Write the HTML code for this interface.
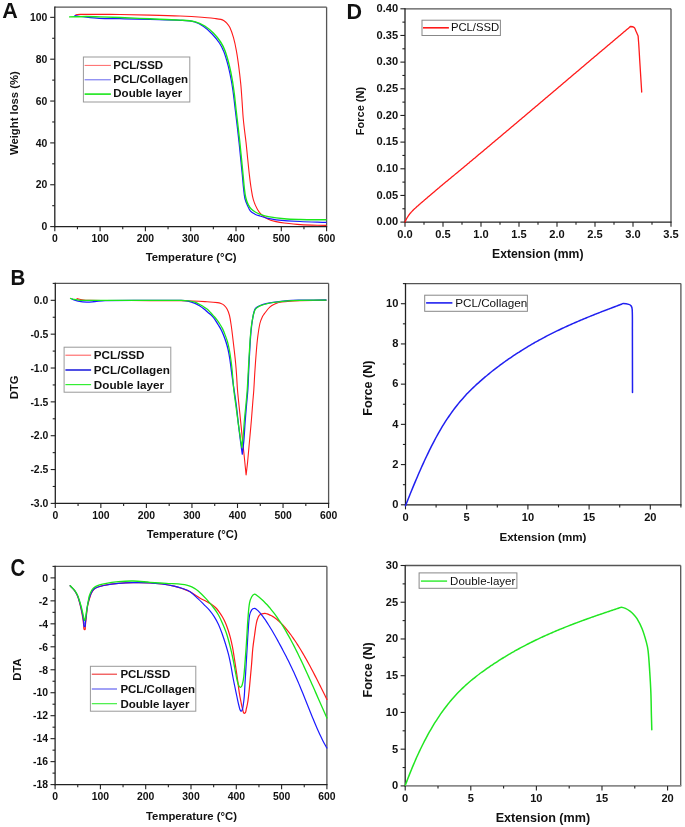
<!DOCTYPE html>
<html><head><meta charset="utf-8"><style>
html,body{margin:0;padding:0;background:#fff;}
svg{display:block;font-family:'Liberation Sans', sans-serif;will-change:transform;}
</style></head><body>
<svg width="685" height="827" viewBox="0 0 685 827">
<rect width="685" height="827" fill="#fff"/>
<line x1="54.8" y1="7.2" x2="326.6" y2="7.2" stroke="#555" stroke-width="1.3"/>
<line x1="326.6" y1="7.2" x2="326.6" y2="226.6" stroke="#555" stroke-width="1.3"/>
<line x1="54.8" y1="6.6" x2="54.8" y2="227.2" stroke="#222" stroke-width="1.3"/>
<line x1="54.2" y1="226.6" x2="327.2" y2="226.6" stroke="#222" stroke-width="1.3"/>
<line x1="54.8" y1="226.6" x2="54.8" y2="231.2" stroke="#222" stroke-width="1.1"/>
<text x="54.8" y="242" font-size="10.4" font-weight="bold" text-anchor="middle" fill="#111">0</text>
<line x1="77.45" y1="226.6" x2="77.45" y2="229.2" stroke="#222" stroke-width="1.1"/>
<line x1="100.1" y1="226.6" x2="100.1" y2="231.2" stroke="#222" stroke-width="1.1"/>
<text x="100.1" y="242" font-size="10.4" font-weight="bold" text-anchor="middle" fill="#111">100</text>
<line x1="122.75" y1="226.6" x2="122.75" y2="229.2" stroke="#222" stroke-width="1.1"/>
<line x1="145.4" y1="226.6" x2="145.4" y2="231.2" stroke="#222" stroke-width="1.1"/>
<text x="145.4" y="242" font-size="10.4" font-weight="bold" text-anchor="middle" fill="#111">200</text>
<line x1="168.05" y1="226.6" x2="168.05" y2="229.2" stroke="#222" stroke-width="1.1"/>
<line x1="190.7" y1="226.6" x2="190.7" y2="231.2" stroke="#222" stroke-width="1.1"/>
<text x="190.7" y="242" font-size="10.4" font-weight="bold" text-anchor="middle" fill="#111">300</text>
<line x1="213.35" y1="226.6" x2="213.35" y2="229.2" stroke="#222" stroke-width="1.1"/>
<line x1="236" y1="226.6" x2="236" y2="231.2" stroke="#222" stroke-width="1.1"/>
<text x="236" y="242" font-size="10.4" font-weight="bold" text-anchor="middle" fill="#111">400</text>
<line x1="258.65" y1="226.6" x2="258.65" y2="229.2" stroke="#222" stroke-width="1.1"/>
<line x1="281.3" y1="226.6" x2="281.3" y2="231.2" stroke="#222" stroke-width="1.1"/>
<text x="281.3" y="242" font-size="10.4" font-weight="bold" text-anchor="middle" fill="#111">500</text>
<line x1="303.95" y1="226.6" x2="303.95" y2="229.2" stroke="#222" stroke-width="1.1"/>
<line x1="326.6" y1="226.6" x2="326.6" y2="231.2" stroke="#222" stroke-width="1.1"/>
<text x="326.6" y="242" font-size="10.4" font-weight="bold" text-anchor="middle" fill="#111">600</text>
<line x1="50.2" y1="226.6" x2="54.8" y2="226.6" stroke="#222" stroke-width="1.1"/>
<text x="47.4" y="230.34" font-size="10.4" font-weight="bold" text-anchor="end" fill="#111">0</text>
<line x1="52.2" y1="205.68" x2="54.8" y2="205.68" stroke="#222" stroke-width="1.1"/>
<line x1="50.2" y1="184.75" x2="54.8" y2="184.75" stroke="#222" stroke-width="1.1"/>
<text x="47.4" y="188.49" font-size="10.4" font-weight="bold" text-anchor="end" fill="#111">20</text>
<line x1="52.2" y1="163.82" x2="54.8" y2="163.82" stroke="#222" stroke-width="1.1"/>
<line x1="50.2" y1="142.9" x2="54.8" y2="142.9" stroke="#222" stroke-width="1.1"/>
<text x="47.4" y="146.64" font-size="10.4" font-weight="bold" text-anchor="end" fill="#111">40</text>
<line x1="52.2" y1="121.97" x2="54.8" y2="121.97" stroke="#222" stroke-width="1.1"/>
<line x1="50.2" y1="101.05" x2="54.8" y2="101.05" stroke="#222" stroke-width="1.1"/>
<text x="47.4" y="104.79" font-size="10.4" font-weight="bold" text-anchor="end" fill="#111">60</text>
<line x1="52.2" y1="80.12" x2="54.8" y2="80.12" stroke="#222" stroke-width="1.1"/>
<line x1="50.2" y1="59.2" x2="54.8" y2="59.2" stroke="#222" stroke-width="1.1"/>
<text x="47.4" y="62.94" font-size="10.4" font-weight="bold" text-anchor="end" fill="#111">80</text>
<line x1="52.2" y1="38.28" x2="54.8" y2="38.28" stroke="#222" stroke-width="1.1"/>
<line x1="50.2" y1="17.35" x2="54.8" y2="17.35" stroke="#222" stroke-width="1.1"/>
<text x="47.4" y="21.09" font-size="10.4" font-weight="bold" text-anchor="end" fill="#111">100</text>
<path d="M75.8,14.8 C77.23,14.67 78.66,14.42 80.1,14.4 C86.73,14.29 93.37,14.38 100,14.4 C106.67,14.42 113.33,14.41 120,14.5 C130,14.64 140,14.85 150,15.1 C160,15.35 170,15.6 180,16 C187.3,16.3 194.61,16.68 201.9,17.2 C206.28,17.51 210.64,18 215,18.5 C216.98,18.73 218.97,18.91 220.9,19.4 C222,19.68 223.05,20.18 224,20.8 C225.11,21.53 226.13,22.4 227,23.4 C228.11,24.69 229.2,26.05 229.9,27.6 C231.38,30.85 232.54,34.26 233.5,37.7 C234.71,42.01 235.59,46.4 236.4,50.8 C237.29,55.64 237.96,60.52 238.6,65.4 C239.43,71.72 240.19,78.05 240.8,84.4 C241.36,90.22 241.68,96.07 242.1,101.9 C242.48,107.27 242.74,112.64 243.2,118 C243.54,122.01 244.04,126 244.5,130 C244.97,134.04 245.55,138.06 246,142.1 C246.59,147.39 247.06,152.7 247.6,158 C248.16,163.4 248.67,168.81 249.3,174.2 C249.84,178.81 250.37,183.42 251.1,188 C251.74,191.99 252.25,196.03 253.4,199.9 C254.39,203.24 255.8,206.47 257.5,209.5 C258.69,211.61 260.21,213.57 262,215.2 C263.82,216.85 265.96,218.18 268.2,219.2 C270.67,220.33 273.35,220.97 276,221.6 C278.7,222.24 281.45,222.66 284.2,223 C289.55,223.66 294.92,224.29 300.3,224.6 C308.86,225.09 317.43,225.13 326,225.4" fill="none" stroke="#ff1a1a" stroke-width="1.1" stroke-linejoin="round" stroke-linecap="round"/>
<path d="M74.9,15.7 C78.7,16.2 82.49,16.8 86.3,17.2 C90.66,17.66 95.02,18.11 99.4,18.3 C106.26,18.61 113.13,18.55 120,18.7 C130,18.92 140,19.13 150,19.4 C160,19.67 170.01,19.74 180,20.3 C184.89,20.57 189.87,20.64 194.6,21.9 C197.87,22.77 200.82,24.68 203.6,26.6 C206.69,28.74 209.49,31.29 212.1,34 C214.78,36.78 217.27,39.78 219.4,43 C221.22,45.75 222.73,48.72 223.9,51.8 C225.71,56.55 227.04,61.48 228.3,66.4 C229.54,71.22 230.51,76.1 231.4,81 C232.28,85.84 232.95,90.72 233.6,95.6 C234.28,100.72 234.8,105.87 235.4,111 C236.03,116.33 236.68,121.66 237.3,127 C237.92,132.33 238.53,137.66 239.1,143 C239.67,148.33 240.17,153.67 240.7,159 C241.23,164.33 241.78,169.66 242.3,175 C242.75,179.66 243.08,184.34 243.6,189 C243.95,192.18 244.16,195.39 244.9,198.5 C245.47,200.92 246.5,203.22 247.5,205.5 C248.37,207.46 249.1,209.57 250.5,211.2 C251.68,212.57 253.39,213.39 255,214.2 C256.61,215.01 258.38,215.45 260.1,216 C262.72,216.85 265.32,217.77 268,218.4 C270.7,219.04 273.44,219.53 276.2,219.8 C284.12,220.57 292.06,221.1 300,221.5 C308.66,221.93 317.33,222.03 326,222.3" fill="none" stroke="#1a1aff" stroke-width="1.2" stroke-linejoin="round" stroke-linecap="round"/>
<path d="M69.6,16.9 C75.17,16.77 80.73,16.5 86.3,16.5 C90.87,16.5 95.43,16.76 100,16.9 C106.67,17.1 113.34,17.25 120,17.5 C130,17.88 140,18.37 150,18.8 C160,19.23 170.01,19.47 180,20.1 C184.88,20.41 189.84,20.47 194.6,21.6 C198.2,22.46 201.65,24.06 204.8,26 C208.05,28 210.92,30.59 213.6,33.3 C216.22,35.95 218.57,38.88 220.6,42 C222.39,44.75 223.86,47.73 225,50.8 C226.77,55.56 228.07,60.48 229.3,65.4 C230.51,70.22 231.45,75.11 232.3,80 C233.15,84.84 233.78,89.72 234.4,94.6 C235.05,99.72 235.51,104.87 236.1,110 C236.71,115.34 237.39,120.66 238,126 C238.62,131.36 239.23,136.73 239.8,142.1 C240.36,147.4 240.87,152.7 241.4,158 C241.94,163.4 242.48,168.8 243,174.2 C243.44,178.8 243.77,183.41 244.3,188 C244.67,191.18 244.97,194.38 245.7,197.5 C246.27,199.94 247.09,202.35 248.2,204.6 C249.04,206.32 250.17,207.92 251.5,209.3 C252.58,210.42 253.94,211.24 255.3,212 C257.12,213.02 259.03,213.9 261,214.6 C263.35,215.44 265.75,216.16 268.2,216.6 C273.5,217.56 278.84,218.31 284.2,218.8 C289.45,219.28 294.73,219.37 300,219.5 C308.66,219.71 317.33,219.7 326,219.8" fill="none" stroke="#1ae61a" stroke-width="1.4" stroke-linejoin="round" stroke-linecap="round"/>
<rect x="83.4" y="57" width="106.4" height="45" fill="#fff" stroke="#999" stroke-width="1"/>
<line x1="84.6" y1="65.4" x2="110.9" y2="65.4" stroke="#f66" stroke-width="1.0"/>
<text x="113.3" y="68.64" font-size="11.5" font-weight="bold" text-anchor="start" fill="#111">PCL/SSD</text>
<line x1="84.6" y1="79.8" x2="110.9" y2="79.8" stroke="#66e" stroke-width="1.0"/>
<text x="113.3" y="83.04" font-size="11.5" font-weight="bold" text-anchor="start" fill="#111">PCL/Collagen</text>
<line x1="84.6" y1="94.1" x2="110.9" y2="94.1" stroke="#1ae61a" stroke-width="1.6"/>
<text x="113.3" y="97.34" font-size="11.5" font-weight="bold" text-anchor="start" fill="#111">Double layer</text>
<text x="191.1" y="260.7" font-size="11.3" font-weight="bold" text-anchor="middle" fill="#111">Temperature (°C)</text>
<text x="17.9" y="113.1" font-size="11.3" font-weight="bold" text-anchor="middle" fill="#111" transform="rotate(-90 17.9 113.1)">Weight loss (%)</text>
<text x="2.3" y="18.4" font-size="21.5" font-weight="bold" text-anchor="start" fill="#111">A</text>
<line x1="55.3" y1="283.4" x2="328.6" y2="283.4" stroke="#555" stroke-width="1.3"/>
<line x1="328.6" y1="283.4" x2="328.6" y2="503.4" stroke="#555" stroke-width="1.3"/>
<line x1="55.3" y1="282.8" x2="55.3" y2="504" stroke="#222" stroke-width="1.3"/>
<line x1="54.7" y1="503.4" x2="329.2" y2="503.4" stroke="#222" stroke-width="1.3"/>
<line x1="55.3" y1="503.4" x2="55.3" y2="508" stroke="#222" stroke-width="1.1"/>
<text x="55.3" y="518.8" font-size="10.4" font-weight="bold" text-anchor="middle" fill="#111">0</text>
<line x1="78.07" y1="503.4" x2="78.07" y2="506" stroke="#222" stroke-width="1.1"/>
<line x1="100.85" y1="503.4" x2="100.85" y2="508" stroke="#222" stroke-width="1.1"/>
<text x="100.85" y="518.8" font-size="10.4" font-weight="bold" text-anchor="middle" fill="#111">100</text>
<line x1="123.62" y1="503.4" x2="123.62" y2="506" stroke="#222" stroke-width="1.1"/>
<line x1="146.4" y1="503.4" x2="146.4" y2="508" stroke="#222" stroke-width="1.1"/>
<text x="146.4" y="518.8" font-size="10.4" font-weight="bold" text-anchor="middle" fill="#111">200</text>
<line x1="169.18" y1="503.4" x2="169.18" y2="506" stroke="#222" stroke-width="1.1"/>
<line x1="191.95" y1="503.4" x2="191.95" y2="508" stroke="#222" stroke-width="1.1"/>
<text x="191.95" y="518.8" font-size="10.4" font-weight="bold" text-anchor="middle" fill="#111">300</text>
<line x1="214.73" y1="503.4" x2="214.73" y2="506" stroke="#222" stroke-width="1.1"/>
<line x1="237.5" y1="503.4" x2="237.5" y2="508" stroke="#222" stroke-width="1.1"/>
<text x="237.5" y="518.8" font-size="10.4" font-weight="bold" text-anchor="middle" fill="#111">400</text>
<line x1="260.28" y1="503.4" x2="260.28" y2="506" stroke="#222" stroke-width="1.1"/>
<line x1="283.05" y1="503.4" x2="283.05" y2="508" stroke="#222" stroke-width="1.1"/>
<text x="283.05" y="518.8" font-size="10.4" font-weight="bold" text-anchor="middle" fill="#111">500</text>
<line x1="305.82" y1="503.4" x2="305.82" y2="506" stroke="#222" stroke-width="1.1"/>
<line x1="328.6" y1="503.4" x2="328.6" y2="508" stroke="#222" stroke-width="1.1"/>
<text x="328.6" y="518.8" font-size="10.4" font-weight="bold" text-anchor="middle" fill="#111">600</text>
<line x1="50.7" y1="503.4" x2="55.3" y2="503.4" stroke="#222" stroke-width="1.1"/>
<text x="48.3" y="507.14" font-size="10.4" font-weight="bold" text-anchor="end" fill="#111">-3.0</text>
<line x1="52.7" y1="486.48" x2="55.3" y2="486.48" stroke="#222" stroke-width="1.1"/>
<line x1="50.7" y1="469.55" x2="55.3" y2="469.55" stroke="#222" stroke-width="1.1"/>
<text x="48.3" y="473.3" font-size="10.4" font-weight="bold" text-anchor="end" fill="#111">-2.5</text>
<line x1="52.7" y1="452.63" x2="55.3" y2="452.63" stroke="#222" stroke-width="1.1"/>
<line x1="50.7" y1="435.71" x2="55.3" y2="435.71" stroke="#222" stroke-width="1.1"/>
<text x="48.3" y="439.45" font-size="10.4" font-weight="bold" text-anchor="end" fill="#111">-2.0</text>
<line x1="52.7" y1="418.78" x2="55.3" y2="418.78" stroke="#222" stroke-width="1.1"/>
<line x1="50.7" y1="401.86" x2="55.3" y2="401.86" stroke="#222" stroke-width="1.1"/>
<text x="48.3" y="405.61" font-size="10.4" font-weight="bold" text-anchor="end" fill="#111">-1.5</text>
<line x1="52.7" y1="384.94" x2="55.3" y2="384.94" stroke="#222" stroke-width="1.1"/>
<line x1="50.7" y1="368.02" x2="55.3" y2="368.02" stroke="#222" stroke-width="1.1"/>
<text x="48.3" y="371.76" font-size="10.4" font-weight="bold" text-anchor="end" fill="#111">-1.0</text>
<line x1="52.7" y1="351.09" x2="55.3" y2="351.09" stroke="#222" stroke-width="1.1"/>
<line x1="50.7" y1="334.17" x2="55.3" y2="334.17" stroke="#222" stroke-width="1.1"/>
<text x="48.3" y="337.91" font-size="10.4" font-weight="bold" text-anchor="end" fill="#111">-0.5</text>
<line x1="52.7" y1="317.25" x2="55.3" y2="317.25" stroke="#222" stroke-width="1.1"/>
<line x1="50.7" y1="300.32" x2="55.3" y2="300.32" stroke="#222" stroke-width="1.1"/>
<text x="48.3" y="304.07" font-size="10.4" font-weight="bold" text-anchor="end" fill="#111">0.0</text>
<line x1="52.7" y1="283.4" x2="55.3" y2="283.4" stroke="#222" stroke-width="1.1"/>
<path d="M77,298.6 C78.67,299 80.3,299.56 82,299.8 C84.65,300.17 87.33,300.33 90,300.4 C96.66,300.57 103.33,300.48 110,300.5 C123.33,300.54 136.67,300.56 150,300.6 C160,300.63 170,300.61 180,300.7 C184.33,300.74 188.67,300.84 193,301 C197,301.14 201,301.34 205,301.6 C209.17,301.87 213.35,302.08 217.5,302.6 C218.7,302.75 219.88,303.13 221,303.6 C222.13,304.07 223.29,304.58 224.2,305.4 C225.4,306.48 226.45,307.77 227.2,309.2 C228.24,311.18 228.97,313.33 229.5,315.5 C230.34,318.95 230.78,322.49 231.3,326 C231.88,329.99 232.31,334 232.8,338 C233.31,342.23 233.83,346.46 234.3,350.7 C234.76,354.8 235.22,358.89 235.6,363 C235.99,367.16 236.31,371.33 236.6,375.5 C236.94,380.33 237.09,385.17 237.5,390 C238.16,397.68 239.03,405.33 239.8,413 C240.53,420.33 241.25,427.67 242,435 C242.72,442 243.48,449 244.2,456 C244.85,462.3 245.47,468.6 246.1,474.9 C246.6,470.6 247.17,466.31 247.6,462 C248.33,454.67 248.94,447.33 249.6,440 C250.2,433.33 250.84,426.67 251.4,420 C251.91,414 252.32,408 252.8,402 C253.12,398 253.53,394 253.8,390 C254.19,384.2 254.42,378.4 254.8,372.6 C255.22,366.06 255.67,359.53 256.2,353 C256.61,347.99 256.98,342.98 257.6,338 C258.21,333.14 258.81,328.27 259.9,323.5 C260.45,321.07 261.45,318.76 262.5,316.5 C263.03,315.37 263.86,314.41 264.6,313.4 C265.7,311.91 266.75,310.37 268,309 C269.06,307.83 270.2,306.71 271.5,305.8 C272.89,304.83 274.41,303.99 276,303.4 C277.87,302.71 279.84,302.31 281.8,302 C284.51,301.57 287.26,301.38 290,301.2 C293.33,300.98 296.67,300.88 300,300.8 C308.67,300.58 317.33,300.47 326,300.3" fill="none" stroke="#ff1a1a" stroke-width="1.1" stroke-linejoin="round" stroke-linecap="round"/>
<path d="M72,299.2 C74,299.87 75.93,300.78 78,301.2 C80.93,301.79 83.92,302.15 86.9,302.2 C89.61,302.25 92.3,301.74 95,301.5 C98.33,301.21 101.65,300.67 105,300.6 C120,300.3 135,300.44 150,300.4 C160.43,300.37 170.87,300.18 181.3,300.4 C183.55,300.45 185.8,300.72 188,301.2 C190.39,301.72 192.73,302.49 195,303.4 C196.58,304.03 198.06,304.9 199.5,305.8 C200.96,306.71 202.35,307.73 203.7,308.8 C205.19,309.97 206.58,311.26 208,312.5 C209.48,313.79 211.03,314.99 212.4,316.4 C213.38,317.4 214.2,318.55 215,319.7 C216.07,321.25 217.01,322.89 218,324.5 C219.01,326.16 220.1,327.78 221,329.5 C221.93,331.28 222.75,333.13 223.5,335 C224.42,337.3 225.26,339.64 226,342 C226.79,344.51 227.52,347.04 228.1,349.6 C228.82,352.81 229.39,356.05 229.9,359.3 C230.46,362.85 230.82,366.43 231.3,370 C231.92,374.67 232.55,379.34 233.2,384 C233.48,386 233.81,388 234.1,390 C234.91,395.66 235.79,401.32 236.5,407 C237.25,412.99 237.79,419 238.5,425 C239.13,430.34 239.81,435.67 240.5,441 C241.07,445.4 241.7,449.8 242.3,454.2 C242.8,449.8 243.42,445.41 243.8,441 C244.35,434.68 244.63,428.33 245.1,422 C245.53,416.33 246.02,410.67 246.5,405 C246.92,400 247.48,395.01 247.8,390 C248.18,384.21 248.33,378.4 248.6,372.6 C248.83,367.73 249.03,362.86 249.3,358 C249.7,350.7 250.08,343.39 250.6,336.1 C250.84,332.73 251.2,329.36 251.6,326 C251.9,323.46 252.27,320.92 252.7,318.4 C253.07,316.25 253.41,314.1 254,312 C254.35,310.75 254.73,309.44 255.5,308.4 C256.11,307.57 257.11,307.12 258,306.6 C259.05,305.98 260.15,305.42 261.3,305 C262.83,304.45 264.42,304.07 266,303.7 C268.32,303.16 270.64,302.64 273,302.3 C277.85,301.6 282.72,300.98 287.6,300.6 C291.72,300.28 295.87,300.26 300,300.2 C308.67,300.06 317.33,300.07 326,300" fill="none" stroke="#1a1aff" stroke-width="1.3" stroke-linejoin="round" stroke-linecap="round"/>
<path d="M70.5,298.4 C71.67,298.73 72.81,299.16 74,299.4 C75.98,299.8 77.98,300.23 80,300.3 C86.66,300.53 93.33,300.29 100,300.3 C116.67,300.32 133.33,300.4 150,300.4 C160.33,300.4 170.67,300.15 181,300.3 C184.01,300.35 187.02,300.6 190,301 C191.7,301.23 193.38,301.65 195,302.2 C196.33,302.65 197.55,303.36 198.8,304 C200.22,304.73 201.64,305.47 203,306.3 C204.37,307.14 205.76,307.98 207,309 C208.27,310.05 209.36,311.31 210.5,312.5 C211.53,313.57 212.52,314.68 213.5,315.8 C214.48,316.92 215.49,318.02 216.4,319.2 C217.49,320.62 218.52,322.09 219.5,323.6 C220.56,325.23 221.63,326.86 222.5,328.6 C223.47,330.54 224.23,332.57 225,334.6 C225.86,336.88 226.73,339.16 227.4,341.5 C228.13,344.03 228.7,346.61 229.2,349.2 C229.83,352.45 230.34,355.72 230.8,359 C231.3,362.56 231.75,366.12 232.1,369.7 C232.75,376.46 233.09,383.25 233.8,390 C234.33,395.02 235.13,400 235.8,405 C236.47,410 237.11,415 237.8,420 C238.44,424.67 239.13,429.33 239.8,434 C240.46,438.57 241.13,443.13 241.8,447.7 C242.27,443.8 242.83,439.91 243.2,436 C243.7,430.68 243.94,425.33 244.4,420 C244.84,414.99 245.43,410 245.9,405 C246.37,400 246.84,395.01 247.2,390 C247.61,384.21 247.87,378.4 248.2,372.6 C248.47,367.73 248.71,362.87 249,358 C249.44,350.7 249.85,343.39 250.4,336.1 C250.65,332.73 250.98,329.36 251.4,326 C251.71,323.52 252.13,321.05 252.6,318.6 C252.99,316.55 253.39,314.5 254,312.5 C254.36,311.32 254.77,310.1 255.5,309.1 C256.14,308.22 257.08,307.59 258,307 C259.03,306.34 260.16,305.83 261.3,305.4 C262.83,304.83 264.41,304.39 266,304 C268.32,303.43 270.64,302.85 273,302.5 C277.85,301.78 282.72,301.2 287.6,300.8 C291.72,300.46 295.86,300.38 300,300.3 C308.67,300.14 317.33,300.17 326,300.1" fill="none" stroke="#1ae61a" stroke-width="1.25" stroke-linejoin="round" stroke-linecap="round"/>
<rect x="64.1" y="347.2" width="106.7" height="45" fill="#fff" stroke="#999" stroke-width="1"/>
<line x1="65.4" y1="355.2" x2="91.1" y2="355.2" stroke="#f55" stroke-width="1.0"/>
<text x="93.8" y="359.41" font-size="11.7" font-weight="bold" text-anchor="start" fill="#111">PCL/SSD</text>
<line x1="65.4" y1="370" x2="91.1" y2="370" stroke="#22d" stroke-width="1.6"/>
<text x="93.8" y="374.21" font-size="11.7" font-weight="bold" text-anchor="start" fill="#111">PCL/Collagen</text>
<line x1="65.4" y1="384.6" x2="91.1" y2="384.6" stroke="#3e3" stroke-width="1.2"/>
<text x="93.8" y="388.81" font-size="11.7" font-weight="bold" text-anchor="start" fill="#111">Double layer</text>
<text x="192.2" y="538.3" font-size="11.3" font-weight="bold" text-anchor="middle" fill="#111">Temperature (°C)</text>
<text x="18.1" y="387.4" font-size="11.3" font-weight="bold" text-anchor="middle" fill="#111" transform="rotate(-90 18.1 387.4)">DTG</text>
<text transform="translate(10.5 285.1) scale(0.9 1)" font-size="22.8" font-weight="bold" fill="#111">B</text>
<line x1="55.1" y1="566.4" x2="326.9" y2="566.4" stroke="#555" stroke-width="1.3"/>
<line x1="326.9" y1="566.4" x2="326.9" y2="784.6" stroke="#555" stroke-width="1.3"/>
<line x1="55.1" y1="565.8" x2="55.1" y2="785.2" stroke="#222" stroke-width="1.3"/>
<line x1="54.5" y1="784.6" x2="327.5" y2="784.6" stroke="#222" stroke-width="1.3"/>
<line x1="55.1" y1="784.6" x2="55.1" y2="789.2" stroke="#222" stroke-width="1.1"/>
<text x="55.1" y="800.3" font-size="10.4" font-weight="bold" text-anchor="middle" fill="#111">0</text>
<line x1="77.75" y1="784.6" x2="77.75" y2="787.2" stroke="#222" stroke-width="1.1"/>
<line x1="100.4" y1="784.6" x2="100.4" y2="789.2" stroke="#222" stroke-width="1.1"/>
<text x="100.4" y="800.3" font-size="10.4" font-weight="bold" text-anchor="middle" fill="#111">100</text>
<line x1="123.05" y1="784.6" x2="123.05" y2="787.2" stroke="#222" stroke-width="1.1"/>
<line x1="145.7" y1="784.6" x2="145.7" y2="789.2" stroke="#222" stroke-width="1.1"/>
<text x="145.7" y="800.3" font-size="10.4" font-weight="bold" text-anchor="middle" fill="#111">200</text>
<line x1="168.35" y1="784.6" x2="168.35" y2="787.2" stroke="#222" stroke-width="1.1"/>
<line x1="191" y1="784.6" x2="191" y2="789.2" stroke="#222" stroke-width="1.1"/>
<text x="191" y="800.3" font-size="10.4" font-weight="bold" text-anchor="middle" fill="#111">300</text>
<line x1="213.65" y1="784.6" x2="213.65" y2="787.2" stroke="#222" stroke-width="1.1"/>
<line x1="236.3" y1="784.6" x2="236.3" y2="789.2" stroke="#222" stroke-width="1.1"/>
<text x="236.3" y="800.3" font-size="10.4" font-weight="bold" text-anchor="middle" fill="#111">400</text>
<line x1="258.95" y1="784.6" x2="258.95" y2="787.2" stroke="#222" stroke-width="1.1"/>
<line x1="281.6" y1="784.6" x2="281.6" y2="789.2" stroke="#222" stroke-width="1.1"/>
<text x="281.6" y="800.3" font-size="10.4" font-weight="bold" text-anchor="middle" fill="#111">500</text>
<line x1="304.25" y1="784.6" x2="304.25" y2="787.2" stroke="#222" stroke-width="1.1"/>
<line x1="326.9" y1="784.6" x2="326.9" y2="789.2" stroke="#222" stroke-width="1.1"/>
<text x="326.9" y="800.3" font-size="10.4" font-weight="bold" text-anchor="middle" fill="#111">600</text>
<line x1="50.5" y1="784.6" x2="55.1" y2="784.6" stroke="#222" stroke-width="1.1"/>
<text x="48.1" y="788.34" font-size="10.4" font-weight="bold" text-anchor="end" fill="#111">-18</text>
<line x1="52.5" y1="773.12" x2="55.1" y2="773.12" stroke="#222" stroke-width="1.1"/>
<line x1="50.5" y1="761.63" x2="55.1" y2="761.63" stroke="#222" stroke-width="1.1"/>
<text x="48.1" y="765.38" font-size="10.4" font-weight="bold" text-anchor="end" fill="#111">-16</text>
<line x1="52.5" y1="750.15" x2="55.1" y2="750.15" stroke="#222" stroke-width="1.1"/>
<line x1="50.5" y1="738.66" x2="55.1" y2="738.66" stroke="#222" stroke-width="1.1"/>
<text x="48.1" y="742.41" font-size="10.4" font-weight="bold" text-anchor="end" fill="#111">-14</text>
<line x1="52.5" y1="727.18" x2="55.1" y2="727.18" stroke="#222" stroke-width="1.1"/>
<line x1="50.5" y1="715.69" x2="55.1" y2="715.69" stroke="#222" stroke-width="1.1"/>
<text x="48.1" y="719.44" font-size="10.4" font-weight="bold" text-anchor="end" fill="#111">-12</text>
<line x1="52.5" y1="704.21" x2="55.1" y2="704.21" stroke="#222" stroke-width="1.1"/>
<line x1="50.5" y1="692.73" x2="55.1" y2="692.73" stroke="#222" stroke-width="1.1"/>
<text x="48.1" y="696.47" font-size="10.4" font-weight="bold" text-anchor="end" fill="#111">-10</text>
<line x1="52.5" y1="681.24" x2="55.1" y2="681.24" stroke="#222" stroke-width="1.1"/>
<line x1="50.5" y1="669.76" x2="55.1" y2="669.76" stroke="#222" stroke-width="1.1"/>
<text x="48.1" y="673.5" font-size="10.4" font-weight="bold" text-anchor="end" fill="#111">-8</text>
<line x1="52.5" y1="658.27" x2="55.1" y2="658.27" stroke="#222" stroke-width="1.1"/>
<line x1="50.5" y1="646.79" x2="55.1" y2="646.79" stroke="#222" stroke-width="1.1"/>
<text x="48.1" y="650.53" font-size="10.4" font-weight="bold" text-anchor="end" fill="#111">-6</text>
<line x1="52.5" y1="635.31" x2="55.1" y2="635.31" stroke="#222" stroke-width="1.1"/>
<line x1="50.5" y1="623.82" x2="55.1" y2="623.82" stroke="#222" stroke-width="1.1"/>
<text x="48.1" y="627.57" font-size="10.4" font-weight="bold" text-anchor="end" fill="#111">-4</text>
<line x1="52.5" y1="612.34" x2="55.1" y2="612.34" stroke="#222" stroke-width="1.1"/>
<line x1="50.5" y1="600.85" x2="55.1" y2="600.85" stroke="#222" stroke-width="1.1"/>
<text x="48.1" y="604.6" font-size="10.4" font-weight="bold" text-anchor="end" fill="#111">-2</text>
<line x1="52.5" y1="589.37" x2="55.1" y2="589.37" stroke="#222" stroke-width="1.1"/>
<line x1="50.5" y1="577.88" x2="55.1" y2="577.88" stroke="#222" stroke-width="1.1"/>
<text x="48.1" y="581.63" font-size="10.4" font-weight="bold" text-anchor="end" fill="#111">0</text>
<line x1="52.5" y1="566.4" x2="55.1" y2="566.4" stroke="#222" stroke-width="1.1"/>
<path d="M70.2,585.8 C71.67,587.4 73.3,588.86 74.6,590.6 C75.65,592.01 76.48,593.59 77.2,595.2 C77.96,596.9 78.48,598.71 79,600.5 C79.72,602.98 80.35,605.48 80.9,608 C81.55,610.98 82.1,613.99 82.6,617 C83.07,619.82 83.37,622.67 83.8,625.5 C84.01,626.87 83.18,629.16 84.5,629.6 C85.67,629.99 85.13,627.22 85.3,626 C85.76,622.68 86.02,619.33 86.4,616 C86.78,612.66 87.01,609.31 87.6,606 C88.05,603.46 88.76,600.97 89.5,598.5 C90.06,596.63 90.64,594.75 91.5,593 C92.15,591.66 92.91,590.31 94,589.3 C95.13,588.26 96.58,587.58 98,587 C99.87,586.24 101.82,585.65 103.8,585.3 C108.63,584.45 113.51,583.85 118.4,583.4 C123.25,582.95 128.13,582.69 133,582.6 C138.67,582.49 144.34,582.53 150,582.8 C154.02,582.99 158.02,583.45 162,584 C166.06,584.56 170.11,585.2 174.1,586.1 C176.79,586.7 179.4,587.59 182,588.5 C184.74,589.46 187.5,590.4 190.1,591.7 C192.19,592.75 194.03,594.24 196,595.5 C197.79,596.64 199.55,597.85 201.4,598.9 C202.89,599.75 204.48,600.41 206,601.2 C207.68,602.07 209.42,602.85 211,603.9 C212.6,604.96 214.12,606.16 215.5,607.5 C216.84,608.81 217.99,610.3 219.1,611.8 C220.33,613.47 221.47,615.2 222.5,617 C223.61,618.94 224.62,620.95 225.5,623 C226.48,625.29 227.31,627.64 228.1,630 C228.91,632.44 229.66,634.91 230.3,637.4 C231.12,640.58 231.87,643.78 232.5,647 C233.21,650.65 233.72,654.33 234.3,658 C234.88,661.66 235.45,665.33 236,669 C236.55,672.66 237.09,676.33 237.6,680 C238.19,684.26 238.64,688.55 239.3,692.8 C239.78,695.88 240.38,698.94 241,702 C241.48,704.35 241.89,706.71 242.6,709 C243.06,710.5 242.95,713.5 244.5,713.3 C246.21,713.08 245.9,710.15 246.4,708.5 C246.94,706.7 247.28,704.85 247.6,703 C247.98,700.85 248.24,698.67 248.5,696.5 C248.91,693 249.26,689.5 249.6,686 C249.96,682.34 250.27,678.67 250.6,675 C250.93,671.33 251.3,667.67 251.6,664 C252.03,658.84 252.27,653.65 252.8,648.5 C253.27,643.98 253.97,639.5 254.6,635 C255.17,630.99 255.59,626.96 256.4,623 C256.82,620.95 257.41,618.9 258.3,617 C258.79,615.95 259.55,614.97 260.5,614.3 C261.2,613.81 262.16,613.86 263,613.7 C263.66,613.57 264.33,613.4 265,613.44 C265.68,613.47 266.34,613.71 267,613.9 C267.68,614.09 268.35,614.33 269,614.59 C269.68,614.86 270.35,615.17 271,615.5 C271.68,615.85 272.35,616.23 273,616.63 C273.68,617.05 274.35,617.5 275,617.96 C275.68,618.45 276.35,618.96 277,619.49 C277.68,620.05 278.35,620.62 279,621.21 C279.68,621.83 280.35,622.46 281,623.11 C281.68,623.78 282.35,624.47 283,625.18 C283.68,625.91 284.35,626.65 285,627.41 C285.68,628.19 286.35,628.99 287,629.79 C287.68,630.63 288.34,631.47 289,632.33 C289.68,633.21 290.34,634.1 291,635 C291.68,635.93 292.34,636.87 293,637.81 C293.68,638.78 294.34,639.76 295,640.74 C295.68,641.76 296.34,642.78 297,643.8 C297.68,644.85 298.34,645.91 299,646.97 C299.67,648.06 300.34,649.15 301,650.25 C301.67,651.37 302.34,652.49 303,653.62 C303.67,654.78 304.34,655.93 305,657.09 C305.67,658.28 306.34,659.46 307,660.65 C307.67,661.86 308.34,663.07 309,664.29 C309.67,665.53 310.34,666.76 311,668 C311.67,669.26 312.34,670.52 313,671.78 C313.67,673.06 314.34,674.34 315,675.62 C315.67,676.92 316.34,678.22 317,679.52 C317.67,680.83 318.34,682.14 319,683.46 C319.67,684.79 320.34,686.11 321,687.44 C321.67,688.78 322.34,690.12 323,691.46 C323.67,692.81 324.33,694.15 325,695.5 C325.63,696.79 326.27,698.08 326.9,699.36" fill="none" stroke="#ff1a1a" stroke-width="1.2" stroke-linejoin="round" stroke-linecap="round"/>
<path d="M70.2,585.8 C71.67,587.4 73.29,588.87 74.6,590.6 C75.63,591.96 76.48,593.46 77.2,595 C77.95,596.6 78.48,598.31 79,600 C79.71,602.31 80.34,604.65 80.9,607 C81.54,609.65 82.1,612.32 82.6,615 C83.07,617.49 83.39,620 83.8,622.5 C84.02,623.87 83.18,626.16 84.5,626.6 C85.67,626.99 85.12,624.22 85.3,623 C85.75,620.01 86.02,617 86.4,614 C86.78,611 87.04,607.97 87.6,605 C88.08,602.47 88.73,599.96 89.5,597.5 C90.03,595.79 90.66,594.09 91.5,592.5 C92.17,591.23 92.91,589.93 94,589 C95.14,588.04 96.6,587.5 98,587 C99.88,586.33 101.83,585.85 103.8,585.5 C108.64,584.65 113.51,583.89 118.4,583.4 C123.25,582.92 128.13,582.69 133,582.6 C138.67,582.49 144.34,582.53 150,582.8 C154.02,582.99 158.02,583.45 162,584 C166.06,584.56 170.1,585.24 174.1,586.1 C176.77,586.67 179.42,587.4 182,588.3 C184.76,589.27 187.65,590.1 190.1,591.7 C193.12,593.68 195.55,596.44 198.2,598.9 C200.19,600.74 202.08,602.68 204,604.6 C205.82,606.42 207.74,608.14 209.4,610.1 C211.14,612.15 212.76,614.32 214.2,616.6 C215.8,619.13 217.25,621.78 218.5,624.5 C219.95,627.65 221.12,630.93 222.3,634.2 C223.49,637.5 224.57,640.84 225.6,644.2 C226.71,647.81 227.79,651.43 228.7,655.1 C229.59,658.7 230.3,662.35 231,666 C231.7,669.65 232.22,673.34 232.9,677 C233.42,679.84 234.02,682.67 234.6,685.5 C235.39,689.34 236.18,693.17 237,697 C237.64,700 238.2,703.03 239,706 C239.47,707.74 239.54,709.81 240.8,711.1 C241.33,711.64 242.14,710.21 242.4,709.5 C243.04,707.75 243.14,705.85 243.4,704 C243.77,701.34 244.1,698.68 244.3,696 C244.66,691.24 244.82,686.47 245.1,681.7 C245.49,675.13 245.91,668.57 246.3,662 C246.64,656.33 246.96,650.67 247.3,645 C247.56,640.67 247.77,636.33 248.1,632 C248.51,626.56 248.63,621.08 249.5,615.7 C249.84,613.63 250.5,611.52 251.7,609.8 C252.31,608.92 253.53,608.48 254.6,608.4 C255.35,608.34 256,608.97 256.6,609.41 C257.35,609.97 257.96,610.68 258.6,611.35 C259.29,612.08 259.96,612.84 260.6,613.61 C261.29,614.44 261.95,615.29 262.6,616.15 C263.29,617.06 263.95,617.99 264.6,618.92 C265.28,619.9 265.94,620.88 266.6,621.87 C267.28,622.89 267.94,623.93 268.6,624.97 C269.28,626.04 269.94,627.11 270.6,628.2 C271.28,629.31 271.94,630.42 272.6,631.55 C273.27,632.69 273.94,633.85 274.6,635 C275.27,636.18 275.94,637.36 276.6,638.55 C277.27,639.75 277.94,640.96 278.6,642.17 C279.27,643.4 279.94,644.63 280.6,645.87 C281.27,647.11 281.94,648.36 282.6,649.62 C283.27,650.89 283.94,652.16 284.6,653.44 C285.27,654.73 285.94,656.03 286.6,657.34 C287.27,658.67 287.94,660 288.6,661.33 C289.27,662.7 289.94,664.07 290.6,665.44 C291.27,666.84 291.94,668.25 292.6,669.66 C293.27,671.1 293.94,672.55 294.6,674 C295.28,675.5 295.94,676.99 296.6,678.49 C297.28,680.04 297.94,681.58 298.6,683.13 C299.28,684.72 299.94,686.32 300.6,687.92 C301.27,689.54 301.94,691.17 302.6,692.81 C303.27,694.46 303.94,696.11 304.6,697.77 C305.27,699.44 305.93,701.1 306.6,702.77 C307.27,704.44 307.93,706.11 308.6,707.78 C309.27,709.44 309.93,711.1 310.6,712.76 C311.26,714.4 311.93,716.04 312.6,717.68 C313.26,719.29 313.93,720.9 314.6,722.5 C315.26,724.07 315.92,725.63 316.6,727.19 C317.26,728.71 317.92,730.22 318.6,731.72 C319.25,733.17 319.92,734.61 320.6,736.05 C321.25,737.42 321.92,738.79 322.6,740.15 C323.25,741.43 323.91,742.71 324.6,743.98 C325.25,745.16 325.93,746.33 326.6,747.51 C326.7,747.68 326.8,747.84 326.9,748.01" fill="none" stroke="#1a1aff" stroke-width="1.2" stroke-linejoin="round" stroke-linecap="round"/>
<path d="M70.2,585.8 C71.67,587.33 73.27,588.75 74.6,590.4 C75.61,591.66 76.48,593.05 77.2,594.5 C77.95,596 78.47,597.61 79,599.2 C79.7,601.28 80.32,603.38 80.9,605.5 C81.52,607.75 82.06,610.03 82.6,612.3 C83.09,614.36 83.44,616.46 84,618.5 C84.18,619.16 84.4,620.96 84.8,620.4 C85.68,619.18 85.54,617.48 85.8,616 C86.27,613.34 86.56,610.66 87,608 C87.36,605.83 87.79,603.67 88.2,601.5 C88.53,599.77 88.71,597.99 89.2,596.3 C89.71,594.55 90.34,592.81 91.2,591.2 C91.82,590.02 92.6,588.89 93.6,588 C94.74,586.99 96.08,586.17 97.5,585.6 C99.52,584.79 101.66,584.3 103.8,583.9 C108.64,583 113.5,582.19 118.4,581.7 C123.25,581.22 128.13,580.91 133,581 C138.68,581.11 144.33,581.89 150,582.3 C155.37,582.69 160.73,583.07 166.1,583.4 C171.43,583.73 176.78,583.83 182.1,584.3 C183.92,584.46 185.73,584.83 187.5,585.3 C188.98,585.7 190.45,586.19 191.8,586.9 C194.03,588.07 196.27,589.29 198.2,590.9 C201.1,593.31 203.66,596.11 206.2,598.9 C209,601.98 211.67,605.19 214.2,608.5 C215.78,610.56 217.23,612.73 218.5,615 C219.94,617.58 221.13,620.29 222.3,623 C223.8,626.46 225.31,629.92 226.5,633.5 C227.98,637.97 229.15,642.54 230.3,647.1 C231.38,651.37 232.31,655.68 233.2,660 C234.18,664.78 234.92,669.62 235.9,674.4 C236.52,677.45 236.98,680.56 238,683.5 C238.5,684.94 238.91,687.05 240.4,687.4 C241.53,687.66 241.95,685.6 242.3,684.5 C243.1,681.94 243.48,679.26 243.8,676.6 C244.45,671.09 244.76,665.54 245.2,660 C245.63,654.54 246.04,649.07 246.4,643.6 C246.7,639.07 246.92,634.53 247.2,630 C247.45,625.93 247.65,621.86 248,617.8 C248.42,612.93 248.66,608.02 249.5,603.2 C249.9,600.95 250.58,598.7 251.7,596.7 C252.33,595.57 253.35,594.46 254.6,594.1 C255.34,593.89 255.96,594.85 256.6,595.29 C257.29,595.76 257.94,596.29 258.6,596.81 C259.28,597.35 259.94,597.9 260.6,598.47 C261.28,599.06 261.94,599.66 262.6,600.27 C263.28,600.9 263.94,601.55 264.6,602.2 C265.28,602.88 265.94,603.57 266.6,604.27 C267.28,605 267.94,605.73 268.6,606.48 C269.28,607.24 269.94,608.03 270.6,608.81 C271.28,609.63 271.94,610.45 272.6,611.29 C273.28,612.15 273.94,613.02 274.6,613.89 C275.28,614.8 275.94,615.71 276.6,616.63 C277.28,617.58 277.94,618.54 278.6,619.51 C279.28,620.5 279.94,621.5 280.6,622.51 C281.28,623.55 281.94,624.59 282.6,625.65 C283.28,626.73 283.94,627.82 284.6,628.91 C285.28,630.04 285.94,631.17 286.6,632.31 C287.28,633.48 287.94,634.66 288.6,635.84 C289.28,637.05 289.94,638.27 290.6,639.49 C291.27,640.74 291.94,642 292.6,643.26 C293.27,644.55 293.94,645.84 294.6,647.14 C295.27,648.46 295.94,649.79 296.6,651.11 C297.27,652.47 297.94,653.82 298.6,655.18 C299.27,656.57 299.94,657.95 300.6,659.34 C301.27,660.75 301.94,662.16 302.6,663.57 C303.27,665 303.94,666.43 304.6,667.87 C305.27,669.32 305.94,670.77 306.6,672.23 C307.27,673.69 307.94,675.16 308.6,676.63 C309.27,678.12 309.94,679.6 310.6,681.09 C311.27,682.58 311.94,684.08 312.6,685.58 C313.27,687.08 313.93,688.59 314.6,690.09 C315.27,691.6 315.93,693.12 316.6,694.63 C317.27,696.14 317.93,697.66 318.6,699.18 C319.27,700.69 319.93,702.21 320.6,703.73 C321.27,705.24 321.93,706.76 322.6,708.27 C323.27,709.78 323.93,711.29 324.6,712.8 C325.27,714.31 325.93,715.81 326.6,717.31 C326.7,717.54 326.8,717.76 326.9,717.99" fill="none" stroke="#1ae61a" stroke-width="1.3" stroke-linejoin="round" stroke-linecap="round"/>
<rect x="90.4" y="666.3" width="105.4" height="44.9" fill="#fff" stroke="#999" stroke-width="1"/>
<line x1="91.8" y1="674.2" x2="117" y2="674.2" stroke="#e33" stroke-width="1.1"/>
<text x="120.4" y="678.34" font-size="11.5" font-weight="bold" text-anchor="start" fill="#111">PCL/SSD</text>
<line x1="91.8" y1="689" x2="117" y2="689" stroke="#55e" stroke-width="1.1"/>
<text x="120.4" y="693.14" font-size="11.5" font-weight="bold" text-anchor="start" fill="#111">PCL/Collagen</text>
<line x1="91.8" y1="703.7" x2="117" y2="703.7" stroke="#3e3" stroke-width="1.1"/>
<text x="120.4" y="707.84" font-size="11.5" font-weight="bold" text-anchor="start" fill="#111">Double layer</text>
<text x="191.5" y="819.9" font-size="11.3" font-weight="bold" text-anchor="middle" fill="#111">Temperature (°C)</text>
<text x="20.5" y="669.5" font-size="11.3" font-weight="bold" text-anchor="middle" fill="#111" transform="rotate(-90 20.5 669.5)">DTA</text>
<text transform="translate(10.4 575.6) scale(0.86 1)" font-size="23.6" font-weight="bold" fill="#111">C</text>
<line x1="405" y1="8.8" x2="671" y2="8.8" stroke="#555" stroke-width="1.3"/>
<line x1="671" y1="8.8" x2="671" y2="222.1" stroke="#555" stroke-width="1.3"/>
<line x1="405" y1="8.2" x2="405" y2="222.7" stroke="#222" stroke-width="1.3"/>
<line x1="404.4" y1="222.1" x2="671.6" y2="222.1" stroke="#222" stroke-width="1.3"/>
<line x1="405" y1="222.1" x2="405" y2="226.7" stroke="#222" stroke-width="1.1"/>
<text x="405" y="238.2" font-size="11.1" font-weight="bold" text-anchor="middle" fill="#111">0.0</text>
<line x1="424" y1="222.1" x2="424" y2="224.7" stroke="#222" stroke-width="1.1"/>
<line x1="443" y1="222.1" x2="443" y2="226.7" stroke="#222" stroke-width="1.1"/>
<text x="443" y="238.2" font-size="11.1" font-weight="bold" text-anchor="middle" fill="#111">0.5</text>
<line x1="462" y1="222.1" x2="462" y2="224.7" stroke="#222" stroke-width="1.1"/>
<line x1="481" y1="222.1" x2="481" y2="226.7" stroke="#222" stroke-width="1.1"/>
<text x="481" y="238.2" font-size="11.1" font-weight="bold" text-anchor="middle" fill="#111">1.0</text>
<line x1="500" y1="222.1" x2="500" y2="224.7" stroke="#222" stroke-width="1.1"/>
<line x1="519" y1="222.1" x2="519" y2="226.7" stroke="#222" stroke-width="1.1"/>
<text x="519" y="238.2" font-size="11.1" font-weight="bold" text-anchor="middle" fill="#111">1.5</text>
<line x1="538" y1="222.1" x2="538" y2="224.7" stroke="#222" stroke-width="1.1"/>
<line x1="557" y1="222.1" x2="557" y2="226.7" stroke="#222" stroke-width="1.1"/>
<text x="557" y="238.2" font-size="11.1" font-weight="bold" text-anchor="middle" fill="#111">2.0</text>
<line x1="576" y1="222.1" x2="576" y2="224.7" stroke="#222" stroke-width="1.1"/>
<line x1="595" y1="222.1" x2="595" y2="226.7" stroke="#222" stroke-width="1.1"/>
<text x="595" y="238.2" font-size="11.1" font-weight="bold" text-anchor="middle" fill="#111">2.5</text>
<line x1="614" y1="222.1" x2="614" y2="224.7" stroke="#222" stroke-width="1.1"/>
<line x1="633" y1="222.1" x2="633" y2="226.7" stroke="#222" stroke-width="1.1"/>
<text x="633" y="238.2" font-size="11.1" font-weight="bold" text-anchor="middle" fill="#111">3.0</text>
<line x1="652" y1="222.1" x2="652" y2="224.7" stroke="#222" stroke-width="1.1"/>
<line x1="671" y1="222.1" x2="671" y2="226.7" stroke="#222" stroke-width="1.1"/>
<text x="671" y="238.2" font-size="11.1" font-weight="bold" text-anchor="middle" fill="#111">3.5</text>
<line x1="400.4" y1="222.1" x2="405" y2="222.1" stroke="#222" stroke-width="1.1"/>
<text x="398.1" y="225.43" font-size="11.1" font-weight="bold" text-anchor="end" fill="#111">0.00</text>
<line x1="402.4" y1="208.77" x2="405" y2="208.77" stroke="#222" stroke-width="1.1"/>
<line x1="400.4" y1="195.44" x2="405" y2="195.44" stroke="#222" stroke-width="1.1"/>
<text x="398.1" y="198.77" font-size="11.1" font-weight="bold" text-anchor="end" fill="#111">0.05</text>
<line x1="402.4" y1="182.11" x2="405" y2="182.11" stroke="#222" stroke-width="1.1"/>
<line x1="400.4" y1="168.78" x2="405" y2="168.78" stroke="#222" stroke-width="1.1"/>
<text x="398.1" y="172.11" font-size="11.1" font-weight="bold" text-anchor="end" fill="#111">0.10</text>
<line x1="402.4" y1="155.44" x2="405" y2="155.44" stroke="#222" stroke-width="1.1"/>
<line x1="400.4" y1="142.11" x2="405" y2="142.11" stroke="#222" stroke-width="1.1"/>
<text x="398.1" y="145.44" font-size="11.1" font-weight="bold" text-anchor="end" fill="#111">0.15</text>
<line x1="402.4" y1="128.78" x2="405" y2="128.78" stroke="#222" stroke-width="1.1"/>
<line x1="400.4" y1="115.45" x2="405" y2="115.45" stroke="#222" stroke-width="1.1"/>
<text x="398.1" y="118.78" font-size="11.1" font-weight="bold" text-anchor="end" fill="#111">0.20</text>
<line x1="402.4" y1="102.12" x2="405" y2="102.12" stroke="#222" stroke-width="1.1"/>
<line x1="400.4" y1="88.79" x2="405" y2="88.79" stroke="#222" stroke-width="1.1"/>
<text x="398.1" y="92.12" font-size="11.1" font-weight="bold" text-anchor="end" fill="#111">0.25</text>
<line x1="402.4" y1="75.46" x2="405" y2="75.46" stroke="#222" stroke-width="1.1"/>
<line x1="400.4" y1="62.12" x2="405" y2="62.12" stroke="#222" stroke-width="1.1"/>
<text x="398.1" y="65.45" font-size="11.1" font-weight="bold" text-anchor="end" fill="#111">0.30</text>
<line x1="402.4" y1="48.79" x2="405" y2="48.79" stroke="#222" stroke-width="1.1"/>
<line x1="400.4" y1="35.46" x2="405" y2="35.46" stroke="#222" stroke-width="1.1"/>
<text x="398.1" y="38.79" font-size="11.1" font-weight="bold" text-anchor="end" fill="#111">0.35</text>
<line x1="402.4" y1="22.13" x2="405" y2="22.13" stroke="#222" stroke-width="1.1"/>
<line x1="400.4" y1="8.8" x2="405" y2="8.8" stroke="#222" stroke-width="1.1"/>
<text x="398.1" y="12.13" font-size="11.1" font-weight="bold" text-anchor="end" fill="#111">0.40</text>
<path d="M405,222.1 C405.17,221.71 405.33,221.32 405.5,220.93 C405.66,220.58 405.83,220.22 406,219.87 C406.16,219.54 406.33,219.21 406.5,218.89 C406.66,218.58 406.83,218.28 407,217.98 C407.16,217.7 407.33,217.41 407.5,217.14 C407.66,216.87 407.83,216.61 408,216.35 C408.16,216.1 408.33,215.85 408.5,215.61 C408.66,215.38 408.83,215.14 409,214.91 C409.16,214.69 409.33,214.47 409.5,214.25 C409.66,214.04 409.83,213.83 410,213.62 C410.16,213.42 410.33,213.22 410.5,213.02 C410.66,212.83 410.83,212.64 411,212.45 C411.16,212.26 411.33,212.07 411.5,211.89 C411.67,211.71 411.83,211.53 412,211.35 C412.17,211.17 412.33,211 412.5,210.82 C412.67,210.65 412.83,210.48 413,210.31 C413.17,210.15 413.33,209.98 413.5,209.81 C413.67,209.65 413.83,209.49 414,209.33 C414.17,209.16 414.33,209 414.5,208.84 C414.67,208.69 414.83,208.53 415,208.37 C415.17,208.22 415.33,208.06 415.5,207.91 C415.67,207.75 415.83,207.6 416,207.44 C416.17,207.29 416.33,207.14 416.5,206.99 C416.67,206.84 416.83,206.69 417,206.54 C417.17,206.39 417.33,206.24 417.5,206.09 C417.67,205.94 417.83,205.79 418,205.65 C418.17,205.5 418.33,205.35 418.5,205.2 C418.67,205.06 418.83,204.91 419,204.76 C419.17,204.62 419.33,204.47 419.5,204.33 C419.67,204.18 419.83,204.04 420,203.89 C420.17,203.75 420.33,203.6 420.5,203.46 C420.67,203.31 420.83,203.17 421,203.03 C421.17,202.88 421.33,202.74 421.5,202.59 C421.67,202.45 421.83,202.31 422,202.16 C422.17,202.02 422.33,201.88 422.5,201.73 C422.67,201.59 422.83,201.45 423,201.31 C423.17,201.16 423.33,201.02 423.5,200.88 C423.67,200.73 423.83,200.59 424,200.45 C424.17,200.31 424.33,200.17 424.5,200.02 C424.67,199.88 424.83,199.74 425,199.6 C425.17,199.45 425.33,199.31 425.5,199.17 C425.67,199.03 425.83,198.89 426,198.74 C426.17,198.6 426.33,198.46 426.5,198.32 C426.67,198.18 426.83,198.04 427,197.89 C427.17,197.75 427.33,197.61 427.5,197.47 C427.67,197.33 427.83,197.19 428,197.04 C428.17,196.9 428.33,196.76 428.5,196.62 C428.67,196.48 428.83,196.34 429,196.19 C429.17,196.05 429.33,195.91 429.5,195.77 C429.67,195.63 429.83,195.49 430,195.35 C430.17,195.2 430.33,195.06 430.5,194.92 C430.67,194.78 430.83,194.64 431,194.5 C431.17,194.36 431.33,194.21 431.5,194.07 C431.67,193.93 431.83,193.79 432,193.65 C432.17,193.51 432.33,193.37 432.5,193.23 C432.67,193.08 432.83,192.94 433,192.8 C433.17,192.66 433.33,192.52 433.5,192.38 C433.67,192.24 433.83,192.09 434,191.95 C434.17,191.81 434.33,191.67 434.5,191.53 C434.67,191.39 434.83,191.25 435,191.11 C435.17,190.96 435.33,190.82 435.5,190.68 C435.67,190.54 435.83,190.4 436,190.26 C436.17,190.12 436.33,189.98 436.5,189.83 C436.67,189.69 436.83,189.55 437,189.41 C437.17,189.27 437.33,189.13 437.5,188.99 C437.67,188.85 437.83,188.7 438,188.56 C438.17,188.42 438.33,188.28 438.5,188.14 C438.67,188 438.83,187.86 439,187.72 C439.17,187.57 439.33,187.43 439.5,187.29 C439.67,187.15 439.83,187.01 440,186.87 C440.17,186.73 440.33,186.59 440.5,186.45 C440.67,186.3 440.83,186.16 441,186.02 C441.17,185.88 441.33,185.74 441.5,185.6 C441.67,185.46 441.83,185.32 442,185.17 C442.17,185.03 442.33,184.89 442.5,184.75 C442.67,184.61 442.83,184.47 443,184.33 C443.17,184.19 443.33,184.04 443.5,183.9 C443.67,183.76 443.83,183.62 444,183.48 C444.17,183.34 444.33,183.2 444.5,183.06 C444.67,182.91 444.82,182.76 445,182.63 C445.16,182.52 445.35,182.44 445.5,182.32 C446.18,181.79 446.83,181.22 447.5,180.67 C448.17,180.11 448.83,179.56 449.5,179.01 C450.17,178.46 450.83,177.91 451.5,177.36 C452.17,176.8 452.83,176.25 453.5,175.7 C454.17,175.14 454.83,174.59 455.5,174.04 C456.17,173.48 456.83,172.93 457.5,172.38 C458.17,171.82 458.83,171.27 459.5,170.72 C460.17,170.16 460.83,169.61 461.5,169.05 C462.17,168.5 462.83,167.94 463.5,167.39 C464.17,166.83 464.83,166.28 465.5,165.72 C466.17,165.17 466.83,164.61 467.5,164.06 C468.17,163.5 468.83,162.94 469.5,162.39 C470.17,161.83 470.83,161.27 471.5,160.72 C472.17,160.16 472.83,159.6 473.5,159.05 C474.17,158.49 474.83,157.93 475.5,157.38 C476.17,156.82 476.83,156.26 477.5,155.7 C478.17,155.14 478.83,154.59 479.5,154.03 C480.17,153.47 480.83,152.91 481.5,152.35 C482.17,151.8 482.83,151.24 483.5,150.68 C484.17,150.12 484.83,149.56 485.5,149 C486.17,148.44 486.83,147.88 487.5,147.32 C488.17,146.76 488.83,146.2 489.5,145.64 C490.17,145.08 490.83,144.52 491.5,143.96 C492.17,143.4 492.83,142.84 493.5,142.28 C494.17,141.72 494.83,141.16 495.5,140.6 C496.17,140.04 496.83,139.48 497.5,138.92 C498.17,138.36 498.83,137.8 499.5,137.24 C500.17,136.68 500.83,136.11 501.5,135.55 C502.17,134.99 502.83,134.43 503.5,133.87 C504.17,133.31 504.83,132.74 505.5,132.18 C506.17,131.62 506.83,131.06 507.5,130.5 C508.17,129.93 508.83,129.37 509.5,128.81 C510.17,128.25 510.83,127.68 511.5,127.12 C512.17,126.56 512.83,126 513.5,125.43 C514.17,124.87 514.83,124.31 515.5,123.74 C516.17,123.18 516.83,122.62 517.5,122.05 C518.17,121.49 518.83,120.93 519.5,120.36 C520.17,119.8 520.83,119.24 521.5,118.67 C522.17,118.11 522.83,117.55 523.5,116.98 C524.17,116.42 524.83,115.86 525.5,115.29 C526.17,114.73 526.83,114.16 527.5,113.6 C528.17,113.04 528.83,112.47 529.5,111.91 C530.17,111.34 530.83,110.78 531.5,110.21 C532.17,109.65 532.83,109.09 533.5,108.52 C534.17,107.96 534.83,107.39 535.5,106.83 C536.17,106.26 536.83,105.7 537.5,105.13 C538.17,104.57 538.83,104 539.5,103.44 C540.17,102.87 540.83,102.31 541.5,101.75 C542.17,101.18 542.83,100.62 543.5,100.05 C544.17,99.49 544.83,98.92 545.5,98.36 C546.17,97.79 546.83,97.23 547.5,96.66 C548.17,96.1 548.83,95.53 549.5,94.97 C550.17,94.4 550.83,93.83 551.5,93.27 C552.17,92.7 552.83,92.14 553.5,91.57 C554.17,91.01 554.83,90.44 555.5,89.88 C556.17,89.31 556.83,88.75 557.5,88.18 C558.17,87.62 558.83,87.05 559.5,86.49 C560.17,85.92 560.83,85.36 561.5,84.79 C562.17,84.23 562.83,83.66 563.5,83.1 C564.17,82.53 564.83,81.97 565.5,81.4 C566.17,80.83 566.83,80.27 567.5,79.7 C568.17,79.14 568.83,78.57 569.5,78.01 C570.17,77.44 570.83,76.88 571.5,76.31 C572.17,75.75 572.83,75.18 573.5,74.62 C574.17,74.05 574.83,73.49 575.5,72.92 C576.17,72.36 576.83,71.79 577.5,71.23 C578.17,70.66 578.83,70.1 579.5,69.53 C580.17,68.97 580.83,68.4 581.5,67.84 C582.17,67.27 582.83,66.71 583.5,66.15 C584.17,65.58 584.83,65.02 585.5,64.45 C586.17,63.89 586.83,63.32 587.5,62.76 C588.17,62.19 588.83,61.63 589.5,61.06 C590.17,60.5 590.83,59.94 591.5,59.37 C592.17,58.81 592.83,58.24 593.5,57.68 C594.17,57.12 594.83,56.55 595.5,55.99 C596.17,55.42 596.83,54.86 597.5,54.3 C598.17,53.73 598.83,53.17 599.5,52.61 C600.17,52.04 600.83,51.48 601.5,50.91 C602.17,50.35 602.83,49.79 603.5,49.22 C604.17,48.66 604.83,48.1 605.5,47.54 C606.17,46.97 606.83,46.41 607.5,45.85 C608.17,45.28 608.83,44.72 609.5,44.16 C610.17,43.6 610.83,43.03 611.5,42.47 C612.17,41.91 612.83,41.35 613.5,40.78 C614.17,40.22 614.83,39.66 615.5,39.1 C616.17,38.54 616.83,37.97 617.5,37.41 C618.17,36.85 618.83,36.29 619.5,35.73 C620.17,35.17 620.83,34.61 621.5,34.04 C622.17,33.48 622.83,32.92 623.5,32.36 C624.17,31.8 624.83,31.24 625.5,30.68 C626.17,30.12 626.83,29.56 627.5,29 C628.17,28.44 628.83,27.88 629.5,27.32 C629.83,27.04 630.07,26.46 630.5,26.48 C631.78,26.53 633.23,26.67 634.2,27.5 C635.24,28.39 635.42,29.96 636,31.2 C636.72,32.76 637.4,34.33 638.1,35.9 C638.33,38.93 638.6,41.96 638.8,45 C639.13,50 639.39,55 639.7,60 C640.03,65.33 640.37,70.67 640.7,76 C641.03,81.33 641.37,86.67 641.7,92" fill="none" stroke="#ff1a1a" stroke-width="1.3" stroke-linejoin="round" stroke-linecap="round"/>
<rect x="422" y="20.2" width="78.4" height="15.3" fill="#fff" stroke="#888" stroke-width="1"/>
<line x1="423" y1="27.8" x2="448.9" y2="27.8" stroke="#ff1a1a" stroke-width="1.6"/>
<text x="450.9" y="31.2" font-size="11.3" font-weight="normal" text-anchor="start" fill="#111">PCL/SSD</text>
<text x="537.8" y="257.7" font-size="12.2" font-weight="bold" text-anchor="middle" fill="#111">Extension (mm)</text>
<text x="363.6" y="111" font-size="11" font-weight="bold" text-anchor="middle" fill="#111" transform="rotate(-90 363.6 111)">Force (N)</text>
<text x="346.4" y="18.7" font-size="21.5" font-weight="bold" text-anchor="start" fill="#111">D</text>
<line x1="405.5" y1="283.6" x2="680.9" y2="283.6" stroke="#555" stroke-width="1.3"/>
<line x1="680.9" y1="283.6" x2="680.9" y2="504.8" stroke="#555" stroke-width="1.3"/>
<line x1="405.5" y1="283" x2="405.5" y2="505.4" stroke="#222" stroke-width="1.3"/>
<line x1="404.9" y1="504.8" x2="681.5" y2="504.8" stroke="#222" stroke-width="1.3"/>
<line x1="405.5" y1="504.8" x2="405.5" y2="509.4" stroke="#222" stroke-width="1.1"/>
<text x="405.5" y="521.2" font-size="11.1" font-weight="bold" text-anchor="middle" fill="#111">0</text>
<line x1="436.1" y1="504.8" x2="436.1" y2="507.4" stroke="#222" stroke-width="1.1"/>
<line x1="466.7" y1="504.8" x2="466.7" y2="509.4" stroke="#222" stroke-width="1.1"/>
<text x="466.7" y="521.2" font-size="11.1" font-weight="bold" text-anchor="middle" fill="#111">5</text>
<line x1="497.3" y1="504.8" x2="497.3" y2="507.4" stroke="#222" stroke-width="1.1"/>
<line x1="527.9" y1="504.8" x2="527.9" y2="509.4" stroke="#222" stroke-width="1.1"/>
<text x="527.9" y="521.2" font-size="11.1" font-weight="bold" text-anchor="middle" fill="#111">10</text>
<line x1="558.5" y1="504.8" x2="558.5" y2="507.4" stroke="#222" stroke-width="1.1"/>
<line x1="589.1" y1="504.8" x2="589.1" y2="509.4" stroke="#222" stroke-width="1.1"/>
<text x="589.1" y="521.2" font-size="11.1" font-weight="bold" text-anchor="middle" fill="#111">15</text>
<line x1="619.7" y1="504.8" x2="619.7" y2="507.4" stroke="#222" stroke-width="1.1"/>
<line x1="650.3" y1="504.8" x2="650.3" y2="509.4" stroke="#222" stroke-width="1.1"/>
<text x="650.3" y="521.2" font-size="11.1" font-weight="bold" text-anchor="middle" fill="#111">20</text>
<line x1="680.9" y1="504.8" x2="680.9" y2="507.4" stroke="#222" stroke-width="1.1"/>
<line x1="400.9" y1="504.8" x2="405.5" y2="504.8" stroke="#222" stroke-width="1.1"/>
<text x="398.4" y="508.13" font-size="11.1" font-weight="bold" text-anchor="end" fill="#111">0</text>
<line x1="402.9" y1="484.69" x2="405.5" y2="484.69" stroke="#222" stroke-width="1.1"/>
<line x1="400.9" y1="464.58" x2="405.5" y2="464.58" stroke="#222" stroke-width="1.1"/>
<text x="398.4" y="467.91" font-size="11.1" font-weight="bold" text-anchor="end" fill="#111">2</text>
<line x1="402.9" y1="444.47" x2="405.5" y2="444.47" stroke="#222" stroke-width="1.1"/>
<line x1="400.9" y1="424.36" x2="405.5" y2="424.36" stroke="#222" stroke-width="1.1"/>
<text x="398.4" y="427.69" font-size="11.1" font-weight="bold" text-anchor="end" fill="#111">4</text>
<line x1="402.9" y1="404.25" x2="405.5" y2="404.25" stroke="#222" stroke-width="1.1"/>
<line x1="400.9" y1="384.15" x2="405.5" y2="384.15" stroke="#222" stroke-width="1.1"/>
<text x="398.4" y="387.48" font-size="11.1" font-weight="bold" text-anchor="end" fill="#111">6</text>
<line x1="402.9" y1="364.04" x2="405.5" y2="364.04" stroke="#222" stroke-width="1.1"/>
<line x1="400.9" y1="343.93" x2="405.5" y2="343.93" stroke="#222" stroke-width="1.1"/>
<text x="398.4" y="347.26" font-size="11.1" font-weight="bold" text-anchor="end" fill="#111">8</text>
<line x1="402.9" y1="323.82" x2="405.5" y2="323.82" stroke="#222" stroke-width="1.1"/>
<line x1="400.9" y1="303.71" x2="405.5" y2="303.71" stroke="#222" stroke-width="1.1"/>
<text x="398.4" y="307.04" font-size="11.1" font-weight="bold" text-anchor="end" fill="#111">10</text>
<line x1="402.9" y1="283.6" x2="405.5" y2="283.6" stroke="#222" stroke-width="1.1"/>
<path d="M405.5,505.81 C406.17,504.12 406.83,502.42 407.5,500.72 C408.16,499.05 408.83,497.38 409.5,495.71 C410.16,494.06 410.83,492.41 411.5,490.77 C412.16,489.14 412.83,487.52 413.5,485.9 C414.16,484.3 414.83,482.71 415.5,481.12 C416.16,479.55 416.83,477.98 417.5,476.42 C418.16,474.88 418.83,473.34 419.5,471.81 C420.16,470.3 420.83,468.79 421.5,467.29 C422.16,465.81 422.83,464.33 423.5,462.86 C424.16,461.42 424.83,459.97 425.5,458.54 C426.16,457.12 426.83,455.72 427.5,454.31 C428.16,452.94 428.83,451.56 429.5,450.19 C430.16,448.85 430.83,447.52 431.5,446.18 C432.16,444.88 432.83,443.58 433.5,442.29 C434.16,441.02 434.83,439.76 435.5,438.51 C436.16,437.28 436.82,436.06 437.5,434.85 C438.16,433.66 438.82,432.48 439.5,431.31 C440.16,430.17 440.82,429.03 441.5,427.9 C442.16,426.8 442.82,425.7 443.5,424.61 C444.16,423.55 444.82,422.5 445.5,421.45 C446.16,420.43 446.82,419.41 447.5,418.4 C448.16,417.41 448.82,416.44 449.5,415.46 C450.16,414.51 450.83,413.57 451.5,412.63 C452.16,411.72 452.83,410.81 453.5,409.91 C454.16,409.03 454.83,408.15 455.5,407.28 C456.16,406.43 456.83,405.59 457.5,404.75 C458.16,403.93 458.83,403.11 459.5,402.3 C460.16,401.51 460.83,400.73 461.5,399.95 C462.16,399.18 462.83,398.42 463.5,397.67 C464.16,396.93 464.83,396.19 465.5,395.47 C466.16,394.75 466.83,394.04 467.5,393.34 C468.16,392.64 468.83,391.96 469.5,391.28 C470.16,390.6 470.83,389.94 471.5,389.28 C472.16,388.62 472.83,387.98 473.5,387.34 C474.16,386.7 474.83,386.07 475.5,385.45 C476.16,384.83 476.83,384.22 477.5,383.61 C478.16,383.01 478.83,382.41 479.5,381.82 C480.16,381.23 480.83,380.65 481.5,380.07 C482.16,379.49 482.83,378.92 483.5,378.35 C484.16,377.79 484.83,377.23 485.5,376.67 C486.16,376.12 486.83,375.56 487.5,375.02 C488.16,374.47 488.83,373.93 489.5,373.39 C490.16,372.85 490.83,372.31 491.5,371.78 C492.16,371.25 492.83,370.73 493.5,370.2 C494.16,369.68 494.83,369.16 495.5,368.65 C496.16,368.14 496.83,367.63 497.5,367.12 C498.16,366.61 498.83,366.11 499.5,365.61 C500.16,365.11 500.83,364.62 501.5,364.13 C502.16,363.64 502.83,363.15 503.5,362.67 C504.16,362.19 504.83,361.71 505.5,361.23 C506.16,360.76 506.83,360.29 507.5,359.82 C508.16,359.35 508.83,358.89 509.5,358.43 C510.16,357.97 510.83,357.51 511.5,357.06 C512.17,356.61 512.83,356.16 513.5,355.71 C514.17,355.26 514.83,354.82 515.5,354.38 C516.17,353.94 516.83,353.51 517.5,353.07 C518.17,352.64 518.83,352.21 519.5,351.79 C520.17,351.36 520.83,350.94 521.5,350.52 C522.17,350.1 522.83,349.69 523.5,349.27 C524.17,348.86 524.83,348.45 525.5,348.04 C526.17,347.64 526.83,347.24 527.5,346.83 C528.17,346.44 528.83,346.04 529.5,345.64 C530.17,345.25 530.83,344.86 531.5,344.47 C532.17,344.08 532.83,343.7 533.5,343.31 C534.17,342.93 534.83,342.55 535.5,342.18 C536.17,341.8 536.83,341.43 537.5,341.05 C538.17,340.68 538.83,340.32 539.5,339.95 C540.17,339.58 540.83,339.22 541.5,338.86 C542.17,338.5 542.83,338.14 543.5,337.79 C544.17,337.43 544.83,337.08 545.5,336.73 C546.17,336.38 546.83,336.03 547.5,335.68 C548.17,335.34 548.83,335 549.5,334.66 C550.17,334.32 550.83,333.98 551.5,333.64 C552.17,333.31 552.83,332.97 553.5,332.64 C554.17,332.31 554.83,331.98 555.5,331.65 C556.17,331.33 556.83,331 557.5,330.68 C558.17,330.36 558.83,330.04 559.5,329.72 C560.17,329.4 560.83,329.09 561.5,328.77 C562.17,328.46 562.83,328.14 563.5,327.83 C564.17,327.52 564.83,327.22 565.5,326.91 C566.17,326.6 566.83,326.3 567.5,325.99 C568.17,325.69 568.83,325.39 569.5,325.09 C570.17,324.79 570.83,324.49 571.5,324.2 C572.17,323.9 572.83,323.61 573.5,323.32 C574.17,323.02 574.83,322.73 575.5,322.44 C576.17,322.15 576.83,321.87 577.5,321.58 C578.17,321.29 578.83,321.01 579.5,320.72 C580.17,320.44 580.83,320.16 581.5,319.88 C582.17,319.6 582.83,319.32 583.5,319.04 C584.17,318.76 584.83,318.49 585.5,318.21 C586.17,317.93 586.83,317.66 587.5,317.39 C588.17,317.11 588.83,316.84 589.5,316.57 C590.17,316.3 590.83,316.03 591.5,315.76 C592.17,315.49 592.83,315.23 593.5,314.96 C594.17,314.69 594.83,314.43 595.5,314.16 C596.17,313.9 596.83,313.63 597.5,313.37 C598.17,313.11 598.83,312.85 599.5,312.59 C600.17,312.32 600.83,312.06 601.5,311.8 C602.17,311.54 602.83,311.29 603.5,311.03 C604.17,310.77 604.83,310.51 605.5,310.26 C606.17,310 606.83,309.74 607.5,309.49 C608.17,309.23 608.83,308.98 609.5,308.72 C610.17,308.47 610.83,308.21 611.5,307.96 C612.17,307.7 612.83,307.45 613.5,307.2 C614.17,306.94 614.83,306.69 615.5,306.44 C616.17,306.19 616.83,305.94 617.5,305.68 C618.17,305.43 618.83,305.18 619.5,304.93 C620.17,304.68 620.83,304.43 621.5,304.18 C622.03,303.97 622.53,303.56 623.1,303.57 C625.02,303.63 626.96,303.85 628.8,304.4 C629.72,304.68 630.67,305.2 631.2,306 C631.87,307.01 632.14,308.29 632.2,309.5 C632.54,316.33 632.38,323.17 632.4,330 C632.48,350.8 632.47,371.6 632.5,392.4" fill="none" stroke="#2020f0" stroke-width="1.5" stroke-linejoin="round" stroke-linecap="round"/>
<rect x="424.7" y="295.2" width="102.7" height="16.1" fill="#fff" stroke="#888" stroke-width="1"/>
<line x1="426.1" y1="302.9" x2="452.4" y2="302.9" stroke="#2020f0" stroke-width="1.6"/>
<text x="455.2" y="306.6" font-size="11.7" font-weight="normal" text-anchor="start" fill="#111">PCL/Collagen</text>
<text x="542.9" y="541.2" font-size="11.6" font-weight="bold" text-anchor="middle" fill="#111">Extension (mm)</text>
<text x="372.3" y="388.1" font-size="12.6" font-weight="bold" text-anchor="middle" fill="#111" transform="rotate(-90 372.3 388.1)">Force (N)</text>
<line x1="405.2" y1="565.5" x2="680.7" y2="565.5" stroke="#555" stroke-width="1.3"/>
<line x1="680.7" y1="565.5" x2="680.7" y2="785.9" stroke="#555" stroke-width="1.3"/>
<line x1="405.2" y1="564.9" x2="405.2" y2="786.5" stroke="#222" stroke-width="1.3"/>
<line x1="404.6" y1="785.9" x2="681.3" y2="785.9" stroke="#8a8a8a" stroke-width="1.7"/>
<line x1="405.2" y1="785.9" x2="405.2" y2="790.5" stroke="#222" stroke-width="1.1"/>
<text x="405.2" y="801.8" font-size="11.1" font-weight="bold" text-anchor="middle" fill="#111">0</text>
<line x1="438" y1="785.9" x2="438" y2="788.5" stroke="#222" stroke-width="1.1"/>
<line x1="470.8" y1="785.9" x2="470.8" y2="790.5" stroke="#222" stroke-width="1.1"/>
<text x="470.8" y="801.8" font-size="11.1" font-weight="bold" text-anchor="middle" fill="#111">5</text>
<line x1="503.59" y1="785.9" x2="503.59" y2="788.5" stroke="#222" stroke-width="1.1"/>
<line x1="536.39" y1="785.9" x2="536.39" y2="790.5" stroke="#222" stroke-width="1.1"/>
<text x="536.39" y="801.8" font-size="11.1" font-weight="bold" text-anchor="middle" fill="#111">10</text>
<line x1="569.19" y1="785.9" x2="569.19" y2="788.5" stroke="#222" stroke-width="1.1"/>
<line x1="601.99" y1="785.9" x2="601.99" y2="790.5" stroke="#222" stroke-width="1.1"/>
<text x="601.99" y="801.8" font-size="11.1" font-weight="bold" text-anchor="middle" fill="#111">15</text>
<line x1="634.78" y1="785.9" x2="634.78" y2="788.5" stroke="#222" stroke-width="1.1"/>
<line x1="667.58" y1="785.9" x2="667.58" y2="790.5" stroke="#222" stroke-width="1.1"/>
<text x="667.58" y="801.8" font-size="11.1" font-weight="bold" text-anchor="middle" fill="#111">20</text>
<line x1="400.6" y1="785.9" x2="405.2" y2="785.9" stroke="#222" stroke-width="1.1"/>
<text x="398.2" y="789.23" font-size="11.1" font-weight="bold" text-anchor="end" fill="#111">0</text>
<line x1="402.6" y1="767.53" x2="405.2" y2="767.53" stroke="#222" stroke-width="1.1"/>
<line x1="400.6" y1="749.17" x2="405.2" y2="749.17" stroke="#222" stroke-width="1.1"/>
<text x="398.2" y="752.5" font-size="11.1" font-weight="bold" text-anchor="end" fill="#111">5</text>
<line x1="402.6" y1="730.8" x2="405.2" y2="730.8" stroke="#222" stroke-width="1.1"/>
<line x1="400.6" y1="712.43" x2="405.2" y2="712.43" stroke="#222" stroke-width="1.1"/>
<text x="398.2" y="715.76" font-size="11.1" font-weight="bold" text-anchor="end" fill="#111">10</text>
<line x1="402.6" y1="694.07" x2="405.2" y2="694.07" stroke="#222" stroke-width="1.1"/>
<line x1="400.6" y1="675.7" x2="405.2" y2="675.7" stroke="#222" stroke-width="1.1"/>
<text x="398.2" y="679.03" font-size="11.1" font-weight="bold" text-anchor="end" fill="#111">15</text>
<line x1="402.6" y1="657.33" x2="405.2" y2="657.33" stroke="#222" stroke-width="1.1"/>
<line x1="400.6" y1="638.97" x2="405.2" y2="638.97" stroke="#222" stroke-width="1.1"/>
<text x="398.2" y="642.3" font-size="11.1" font-weight="bold" text-anchor="end" fill="#111">20</text>
<line x1="402.6" y1="620.6" x2="405.2" y2="620.6" stroke="#222" stroke-width="1.1"/>
<line x1="400.6" y1="602.23" x2="405.2" y2="602.23" stroke="#222" stroke-width="1.1"/>
<text x="398.2" y="605.56" font-size="11.1" font-weight="bold" text-anchor="end" fill="#111">25</text>
<line x1="402.6" y1="583.87" x2="405.2" y2="583.87" stroke="#222" stroke-width="1.1"/>
<line x1="400.6" y1="565.5" x2="405.2" y2="565.5" stroke="#222" stroke-width="1.1"/>
<text x="398.2" y="568.83" font-size="11.1" font-weight="bold" text-anchor="end" fill="#111">30</text>
<path d="M405.4,785.07 C406.07,783.3 406.72,781.53 407.4,779.77 C408.06,778.05 408.72,776.34 409.4,774.64 C410.06,772.98 410.72,771.33 411.4,769.68 C412.06,768.07 412.72,766.47 413.4,764.88 C414.06,763.33 414.72,761.78 415.4,760.24 C416.06,758.75 416.72,757.25 417.4,755.77 C418.06,754.32 418.72,752.88 419.4,751.44 C420.06,750.05 420.72,748.65 421.4,747.27 C422.06,745.92 422.72,744.58 423.4,743.24 C424.06,741.94 424.72,740.64 425.4,739.35 C426.06,738.1 426.72,736.85 427.4,735.6 C428.06,734.4 428.72,733.19 429.4,731.99 C430.06,730.82 430.72,729.66 431.4,728.51 C432.06,727.38 432.72,726.26 433.4,725.15 C434.06,724.07 434.72,722.99 435.4,721.92 C436.06,720.87 436.72,719.83 437.4,718.8 C438.06,717.8 438.72,716.8 439.4,715.8 C440.06,714.83 440.72,713.87 441.4,712.91 C442.06,711.98 442.73,711.05 443.4,710.13 C444.06,709.23 444.73,708.34 445.4,707.45 C446.06,706.59 446.73,705.73 447.4,704.87 C448.06,704.04 448.73,703.21 449.4,702.39 C450.06,701.59 450.73,700.79 451.4,700 C452.06,699.22 452.73,698.46 453.4,697.69 C454.06,696.95 454.73,696.21 455.4,695.47 C456.06,694.76 456.73,694.04 457.4,693.33 C458.06,692.64 458.73,691.95 459.4,691.27 C460.06,690.6 460.73,689.94 461.4,689.28 C462.06,688.63 462.73,687.99 463.4,687.36 C464.06,686.73 464.73,686.11 465.4,685.5 C466.06,684.89 466.73,684.3 467.4,683.7 C468.06,683.12 468.73,682.54 469.4,681.96 C470.06,681.39 470.73,680.83 471.4,680.27 C472.06,679.72 472.73,679.18 473.4,678.64 C474.06,678.1 474.73,677.57 475.4,677.04 C476.06,676.52 476.73,676 477.4,675.49 C478.06,674.98 478.73,674.48 479.4,673.98 C480.06,673.48 480.73,672.99 481.4,672.5 C482.06,672.01 482.73,671.53 483.4,671.04 C484.06,670.57 484.73,670.09 485.4,669.62 C486.06,669.15 486.73,668.68 487.4,668.22 C488.06,667.75 488.73,667.29 489.4,666.84 C490.07,666.38 490.73,665.93 491.4,665.48 C492.07,665.03 492.73,664.58 493.4,664.14 C494.07,663.7 494.73,663.26 495.4,662.82 C496.07,662.38 496.73,661.95 497.4,661.52 C498.07,661.09 498.73,660.67 499.4,660.24 C500.07,659.82 500.73,659.4 501.4,658.98 C502.07,658.57 502.73,658.16 503.4,657.74 C504.07,657.34 504.73,656.93 505.4,656.52 C506.07,656.12 506.73,655.72 507.4,655.32 C508.07,654.93 508.73,654.53 509.4,654.14 C510.07,653.75 510.73,653.36 511.4,652.97 C512.07,652.59 512.73,652.21 513.4,651.83 C514.07,651.45 514.73,651.07 515.4,650.7 C516.07,650.32 516.73,649.95 517.4,649.58 C518.07,649.21 518.73,648.85 519.4,648.48 C520.07,648.12 520.73,647.76 521.4,647.4 C522.07,647.05 522.73,646.69 523.4,646.34 C524.07,645.99 524.73,645.64 525.4,645.29 C526.07,644.94 526.73,644.6 527.4,644.26 C528.07,643.92 528.73,643.58 529.4,643.24 C530.07,642.9 530.73,642.57 531.4,642.24 C532.07,641.91 532.73,641.58 533.4,641.25 C534.07,640.92 534.73,640.6 535.4,640.27 C536.07,639.95 536.73,639.63 537.4,639.31 C538.07,638.99 538.73,638.68 539.4,638.36 C540.07,638.05 540.73,637.74 541.4,637.43 C542.07,637.12 542.73,636.81 543.4,636.51 C544.07,636.2 544.73,635.9 545.4,635.6 C546.07,635.3 546.73,635 547.4,634.7 C548.07,634.41 548.73,634.11 549.4,633.82 C550.07,633.53 550.73,633.23 551.4,632.94 C552.07,632.66 552.73,632.37 553.4,632.08 C554.07,631.8 554.73,631.51 555.4,631.23 C556.07,630.95 556.73,630.67 557.4,630.39 C558.07,630.11 558.73,629.84 559.4,629.56 C560.07,629.29 560.73,629.01 561.4,628.74 C562.07,628.47 562.73,628.2 563.4,627.93 C564.07,627.66 564.73,627.39 565.4,627.13 C566.07,626.86 566.73,626.6 567.4,626.34 C568.07,626.07 568.73,625.81 569.4,625.55 C570.07,625.29 570.73,625.03 571.4,624.78 C572.07,624.52 572.73,624.26 573.4,624.01 C574.07,623.75 574.73,623.5 575.4,623.25 C576.07,623 576.73,622.75 577.4,622.5 C578.07,622.25 578.73,622 579.4,621.75 C580.07,621.5 580.73,621.26 581.4,621.01 C582.07,620.77 582.73,620.52 583.4,620.28 C584.07,620.04 584.73,619.8 585.4,619.55 C586.07,619.31 586.73,619.07 587.4,618.83 C588.07,618.59 588.73,618.36 589.4,618.12 C590.07,617.88 590.73,617.64 591.4,617.41 C592.07,617.17 592.73,616.94 593.4,616.7 C594.07,616.47 594.73,616.24 595.4,616 C596.07,615.77 596.73,615.54 597.4,615.31 C598.07,615.08 598.73,614.85 599.4,614.61 C600.07,614.38 600.73,614.16 601.4,613.93 C602.07,613.7 602.73,613.47 603.4,613.24 C604.07,613.01 604.73,612.78 605.4,612.56 C606.07,612.33 606.73,612.1 607.4,611.88 C608.07,611.65 608.73,611.42 609.4,611.2 C610.07,610.97 610.73,610.75 611.4,610.52 C612.07,610.3 612.73,610.07 613.4,609.85 C614.07,609.62 614.73,609.4 615.4,609.18 C616.07,608.95 616.73,608.73 617.4,608.5 C618.07,608.28 618.73,608.05 619.4,607.83 C620.03,607.62 620.63,607.13 621.3,607.19 C622.72,607.33 624.11,607.8 625.4,608.4 C627.03,609.15 628.54,610.15 630,611.2 C631.15,612.03 632.23,612.96 633.2,614 C634.57,615.47 635.96,616.97 637,618.7 C638.94,621.93 640.71,625.29 642.1,628.8 C643.85,633.22 645.15,637.81 646.4,642.4 C647.15,645.16 647.77,647.96 648.1,650.8 C648.88,657.58 649.25,664.39 649.7,671.2 C650.18,678.53 650.62,685.86 650.9,693.2 C651.18,700.56 651.22,707.93 651.4,715.3 C651.52,720.1 651.67,724.9 651.8,729.7" fill="none" stroke="#22e622" stroke-width="1.5" stroke-linejoin="round" stroke-linecap="round"/>
<rect x="419.1" y="572.9" width="97.8" height="15.4" fill="#fff" stroke="#888" stroke-width="1"/>
<line x1="420.9" y1="581.1" x2="447.1" y2="581.1" stroke="#44ee44" stroke-width="1.6"/>
<text x="450.1" y="584.7" font-size="11.5" font-weight="normal" text-anchor="start" fill="#111">Double-layer</text>
<text x="542.9" y="822" font-size="12.6" font-weight="bold" text-anchor="middle" fill="#111">Extension (mm)</text>
<text x="372.3" y="669.9" font-size="12.6" font-weight="bold" text-anchor="middle" fill="#111" transform="rotate(-90 372.3 669.9)">Force (N)</text>
</svg>
</body></html>
